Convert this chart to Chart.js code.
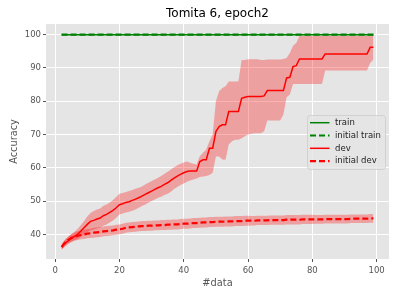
<!DOCTYPE html>
<html>
<head>
<meta charset="utf-8">
<script src="https://cdn.jsdelivr.net/npm/chart.js@4/dist/chart.umd.min.js"></script>
<style>
  body { margin: 0; background: #fff; }
  #wrap { width: 399px; height: 299px; }
</style>
</head>
<body>
<div id="wrap"><canvas id="chart" width="399" height="299"></canvas></div>
<script>
// number of training examples (x axis)
const nData = [];
for (let n = 2; n <= 99; n++) nData.push(n);

const xTicks = [0, 20, 40, 60, 80, 100];
const yTicks = [40, 50, 60, 70, 80, 90, 100];

// train accuracy stays at 100 for both runs
const train = nData.map(() => 100);
const initialTrain = nData.map(() => 100);

// dev accuracy (mean, lower and upper edge of the shaded band)
const devMean = [
  36.2, 37.3, 38.0, 38.8, 39.4, 40.0, 41.0, 42.0, 43.0, 43.9,
  44.2, 44.6, 44.9, 45.6, 46.0, 46.6, 47.2, 48.0, 48.9, 49.2,
  49.6, 49.8, 50.2, 50.6, 51.0, 51.5, 52.0, 52.5, 53.0, 53.5,
  54.0, 54.4, 55.0, 55.5, 56.2, 56.9, 57.5, 58.0, 58.5, 58.9,
  59.0, 59.0, 59.0, 61.9, 62.4, 62.4, 65.9, 65.9, 70.9, 72.4,
  72.9, 72.9, 76.9, 76.9, 76.9, 76.9, 80.9, 81.2, 81.4, 81.4,
  81.4, 81.4, 81.4, 81.6, 83.2, 83.2, 83.2, 83.2, 83.2, 83.2,
  87.0, 87.2, 90.4, 90.7, 92.7, 92.7, 92.7, 92.7, 92.7, 92.7,
  92.7, 92.7, 94.2, 94.2, 94.2, 94.2, 94.2, 94.2, 94.2, 94.2,
  94.2, 94.2, 94.2, 94.2, 94.2, 94.2, 96.2, 96.2
];
const devLow = [
  35.4, 36.3, 37.0, 37.6, 38.2, 38.6, 39.2, 40.0, 40.6, 41.2,
  41.5, 41.8, 42.1, 42.6, 43.0, 43.6, 44.2, 45.0, 46.0, 46.3,
  46.6, 46.8, 47.1, 47.5, 48.0, 48.5, 49.0, 49.5, 50.0, 50.5,
  51.0, 51.3, 51.8, 52.2, 52.8, 53.6, 54.2, 54.8, 55.3, 55.8,
  56.2, 56.5, 56.8, 57.2, 57.4, 57.5, 57.8, 58.5, 63.4, 63.4,
  62.5, 62.4, 67.0, 68.0, 68.4, 68.4, 68.9, 69.5, 70.0, 70.2,
  70.4, 70.4, 70.4, 71.0, 74.2, 74.2, 74.2, 74.2, 74.2, 76.0,
  81.2, 82.0, 85.2, 85.2, 85.2, 85.2, 85.2, 85.2, 85.2, 85.2,
  85.2, 85.2, 89.2, 89.2, 89.2, 89.2, 89.2, 89.2, 89.2, 89.2,
  89.2, 89.2, 89.2, 89.2, 89.2, 89.2, 91.5, 92.5
];
const devHigh = [
  37.0, 38.3, 39.2, 40.0, 40.8, 41.6, 42.8, 44.0, 45.4, 46.4,
  47.0, 47.5, 47.8, 48.6, 49.0, 49.6, 50.3, 51.2, 52.2, 52.4,
  52.7, 53.0, 53.3, 53.7, 54.0, 54.4, 55.0, 55.5, 56.0, 56.5,
  57.0, 57.5, 58.2, 58.8, 59.5, 60.2, 60.8, 61.2, 61.6, 61.9,
  61.5, 61.2, 61.0, 63.5, 64.5, 65.5, 68.0, 70.0, 80.0, 83.0,
  84.0, 84.5, 85.9, 85.9, 85.9, 86.0, 92.4, 92.4, 92.6, 92.6,
  92.6, 92.6, 92.4, 92.4, 92.5, 92.5, 92.5, 92.5, 92.5, 92.7,
  93.0, 94.5, 96.7, 97.5, 99.6, 99.6, 99.6, 99.6, 99.6, 99.6,
  99.6, 99.6, 99.6, 99.6, 99.6, 99.6, 99.6, 99.6, 99.6, 99.6,
  99.6, 99.6, 99.6, 99.6, 99.6, 99.6, 99.8, 99.8
];

// initial dev accuracy and its spread
const initialDev = [
  36.2, 37.4, 38.3, 38.9, 39.3, 39.6, 39.8, 40.0, 40.2, 40.3,
  40.5, 40.6, 40.7, 40.9, 41.0, 41.1, 41.2, 41.4, 41.5, 41.7,
  42.0, 42.1, 42.2, 42.3, 42.4, 42.5, 42.5, 42.6, 42.6, 42.7,
  42.7, 42.8, 42.8, 42.9, 42.9, 43.0, 43.0, 43.1, 43.2, 43.2,
  43.3, 43.4, 43.4, 43.5, 43.6, 43.6, 43.7, 43.7, 43.8, 43.8,
  43.8, 43.9, 43.9, 43.9, 44.0, 44.0, 44.0, 44.1, 44.1, 44.1,
  44.1, 44.2, 44.2, 44.2, 44.2, 44.3, 44.3, 44.3, 44.3, 44.3,
  44.4, 44.4, 44.4, 44.4, 44.4, 44.5, 44.5, 44.5, 44.5, 44.5,
  44.5, 44.5, 44.6, 44.6, 44.6, 44.6, 44.6, 44.6, 44.6, 44.6,
  44.7, 44.7, 44.7, 44.7, 44.7, 44.7, 44.8, 44.8
];
const initialDevStd = [
  0.8, 0.9, 1.0, 1.1, 1.2, 1.3, 1.3, 1.4, 1.4, 1.4,
  1.5, 1.5, 1.5, 1.5, 1.5, 1.5, 1.5, 1.5, 1.5, 1.5,
  1.5, 1.5, 1.5, 1.5, 1.5, 1.5, 1.5, 1.5, 1.5, 1.5,
  1.5, 1.5, 1.5, 1.5, 1.5, 1.5, 1.5, 1.5, 1.5, 1.5,
  1.5, 1.5, 1.5, 1.5, 1.5, 1.5, 1.5, 1.5, 1.5, 1.5,
  1.5, 1.5, 1.5, 1.5, 1.5, 1.5, 1.5, 1.5, 1.5, 1.4,
  1.4, 1.4, 1.4, 1.4, 1.4, 1.4, 1.4, 1.4, 1.4, 1.4,
  1.4, 1.4, 1.4, 1.4, 1.4, 1.4, 1.4, 1.4, 1.4, 1.3,
  1.3, 1.3, 1.3, 1.3, 1.3, 1.3, 1.3, 1.3, 1.3, 1.3,
  1.3, 1.3, 1.3, 1.3, 1.3, 1.3, 1.3, 1.3
];

const FONT = "'DejaVu Sans', sans-serif";
const GREEN = '#008000';
const RED = '#ff0000';
const BAND = 'rgba(255, 0, 0, 0.3)';

function pts(values) {
  return nData.map((n, i) => ({ x: n, y: values[i] }));
}

function line(label, values, color, dashed, order) {
  return {
    label: label,
    data: pts(values),
    borderColor: color,
    borderWidth: dashed ? 2.2 : 1.5,
    borderDash: dashed ? [6, 3] : [],
    pointRadius: 0,
    fill: false,
    tension: 0,
    order: order
  };
}

function band(values, fill, order) {
  return {
    label: '',
    data: pts(values),
    borderWidth: 0,
    borderColor: 'rgba(0,0,0,0)',
    backgroundColor: BAND,
    pointRadius: 0,
    fill: fill,
    tension: 0,
    order: order
  };
}

const datasets = [
  line('train', train, GREEN, false, 1),
  line('initial train', initialTrain, GREEN, true, 0),
  line('dev', devMean, RED, false, 3),
  line('initial dev', initialDev, RED, true, 2),
  band(devHigh, '+1', 5),
  band(devLow, false, 5),
  band(initialDev.map((v, i) => v + initialDevStd[i]), '+1', 4),
  band(initialDev.map((v, i) => v - initialDevStd[i]), false, 4)
];

// grey panel behind the plot, like the ggplot style
const panelBg = {
  id: 'panelBg',
  beforeDraw(chart) {
    const { ctx, chartArea: a } = chart;
    ctx.save();
    ctx.fillStyle = '#e5e5e5';
    ctx.fillRect(a.left, a.top, a.right - a.left, a.bottom - a.top);
    ctx.restore();
  }
};

// title, axis labels and the legend box
const decorations = {
  id: 'decorations',
  afterDraw(chart) {
    const { ctx, chartArea: a } = chart;
    const cx = (a.left + a.right) / 2;
    ctx.save();
    ctx.textAlign = 'center';
    ctx.textBaseline = 'middle';
    ctx.fillStyle = '#000';
    ctx.font = '12px ' + FONT;
    ctx.fillText('Tomita 6, epoch2', cx, 14);

    ctx.fillStyle = '#555555';
    ctx.font = '9.8px ' + FONT;
    ctx.fillText('#data', cx, 283);
    ctx.translate(14, (a.top + a.bottom) / 2);
    ctx.rotate(-Math.PI / 2);
    ctx.fillText('Accuracy', 0, 0);
    ctx.restore();

    // legend
    const bx = 307, by = 115, bw = 78, bh = 54;
    ctx.save();
    ctx.beginPath();
    ctx.roundRect(bx + 0.5, by + 0.5, bw, bh, 3);
    ctx.fillStyle = 'rgba(229,229,229,0.8)';
    ctx.fill();
    ctx.strokeStyle = 'rgba(204,204,204,0.8)';
    ctx.lineWidth = 1;
    ctx.stroke();
    const rows = [0, 1, 2, 3];
    rows.forEach(i => {
      const ds = datasets[i];
      const y = 122.7 + i * 12.8;
      ctx.beginPath();
      ctx.setLineDash(ds.borderDash);
      ctx.strokeStyle = ds.borderColor;
      ctx.lineWidth = ds.borderWidth;
      ctx.moveTo(310, y);
      ctx.lineTo(329.5, y);
      ctx.stroke();
      ctx.setLineDash([]);
      ctx.fillStyle = '#222';
      ctx.font = '8.5px ' + FONT;
      ctx.textAlign = 'left';
      ctx.textBaseline = 'middle';
      ctx.fillText(ds.label, 335, y);
    });
    ctx.restore();
  }
};

new Chart(document.getElementById('chart'), {
  type: 'line',
  data: { datasets: datasets },
  options: {
    responsive: false,
    devicePixelRatio: 1,
    animation: false,
    layout: { padding: { left: 0, right: 10, top: 24, bottom: 0 } },
    plugins: {
      legend: { display: false },
      title: { display: false },
      tooltip: { enabled: false }
    },
    scales: {
      x: {
        type: 'linear',
        min: -2.85,
        max: 103.85,
        afterBuildTicks: s => { s.ticks = xTicks.map(v => ({ value: v })); },
        afterFit: s => { s.height = 40; },
        border: { display: false },
        grid: { color: '#ffffff', lineWidth: 1, tickColor: '#555555', tickLength: 3, drawTicks: true },
        ticks: { color: '#555555', font: { family: FONT, size: 8.5 }, padding: 4, maxRotation: 0 }
      },
      y: {
        type: 'linear',
        min: 32.6,
        max: 103.2,
        afterBuildTicks: s => { s.ticks = yTicks.map(v => ({ value: v })); },
        afterFit: s => { s.width = 46; },
        border: { display: false },
        grid: { color: '#ffffff', lineWidth: 1, tickColor: '#555555', tickLength: 3, drawTicks: true },
        ticks: { color: '#555555', font: { family: FONT, size: 8.5 }, padding: 2 }
      }
    }
  },
  plugins: [panelBg, decorations]
});
</script>
</body>
</html>
